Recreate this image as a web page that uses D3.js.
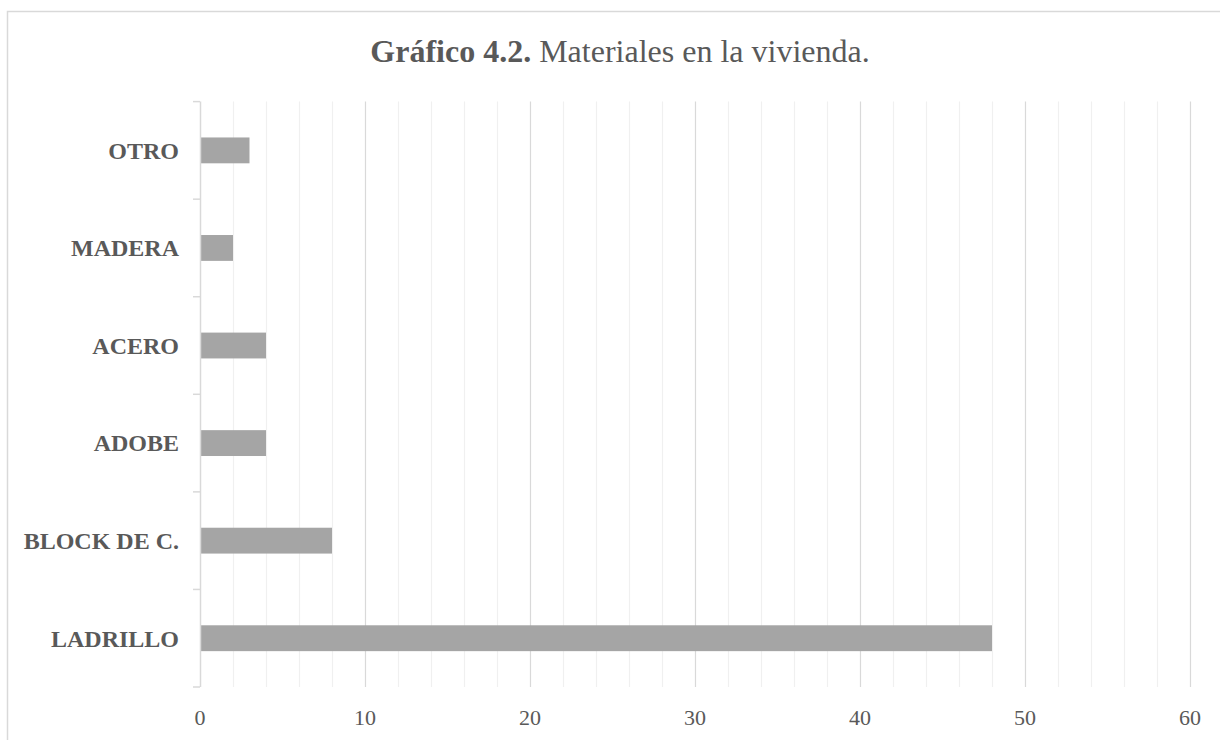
<!DOCTYPE html>
<html>
<head>
<meta charset="utf-8">
<script src="https://cdn.jsdelivr.net/npm/d3@7/dist/d3.min.js"></script>
<style>
  body { margin: 0; background: #fff; }
  text { font-family: "Liberation Serif", "Times New Roman", serif; fill: #595959; }
</style>
</head>
<body>
<div id="chart"></div>
<script>
// materiales en la vivienda

var categories = ["LADRILLO", "BLOCK DE C.", "ADOBE", "ACERO", "MADERA", "OTRO"];
var values = [48, 8, 4, 4, 2, 3];
var majorTicks = [0, 10, 20, 30, 40, 50, 60];
var minorTicks = d3.range(0, 61, 2);

var width = 1220, height = 740;

var svg = d3.select("#chart")
    .append("svg")
    .attr("width", width)
    .attr("height", height);

// chart frame
svg.append("rect")
    .attr("x", 7.5)
    .attr("y", 11.5)
    .attr("width", 1240)
    .attr("height", 760)
    .attr("fill", "none")
    .attr("stroke", "#d9d9d9")
    .attr("stroke-width", 1.5);

// title
var title = svg.append("text")
    .attr("x", 620)
    .attr("y", 62)
    .attr("text-anchor", "middle")
    .style("font-size", "32px");
title.append("tspan").style("font-weight", "bold").text("Gráfico 4.2.");
title.append("tspan").text(" Materiales en la vivienda.");

var x = d3.scaleLinear()
    .domain([0, 60])
    .range([200, 1190]);

var y = d3.scaleBand()
    .domain(categories.slice().reverse())
    .range([101.6, 687])
    .paddingInner(0.735)
    .paddingOuter(0.3675);

var band = d3.scaleBand()
    .domain(categories.slice().reverse())
    .range([101.6, 687]);

// minor gridlines
svg.append("g").selectAll("line")
    .data(minorTicks.filter(function (d) { return d % 10 !== 0; }))
    .enter().append("line")
    .attr("x1", function (d) { return x(d) + 0.5; })
    .attr("x2", function (d) { return x(d) + 0.5; })
    .attr("y1", 101.6)
    .attr("y2", 687)
    .attr("stroke", "#f0f0f0")
    .attr("stroke-width", 1.2);

// major gridlines
svg.append("g").selectAll("line")
    .data(majorTicks.slice(1))
    .enter().append("line")
    .attr("x1", function (d) { return x(d) + 0.5; })
    .attr("x2", function (d) { return x(d) + 0.5; })
    .attr("y1", 101.6)
    .attr("y2", 687)
    .attr("stroke", "#d9d9d9")
    .attr("stroke-width", 1.2);

// bars
svg.append("g").selectAll("rect")
    .data(categories)
    .enter().append("rect")
    .attr("x", x(0) + 1)
    .attr("y", function (d) { return y(d); })
    .attr("width", function (d, i) { return x(values[i]) - x(0) - 1; })
    .attr("height", y.bandwidth())
    .attr("fill", "#a5a5a5");

// category axis line + ticks on band boundaries
var axis = svg.append("g");
axis.append("line")
    .attr("x1", 200.5).attr("x2", 200.5)
    .attr("y1", 101.6).attr("y2", 687)
    .attr("stroke", "#d9d9d9")
    .attr("stroke-width", 1.5);
var bounds = band.domain().map(function (d) { return band(d); }).concat([687]);
axis.selectAll(".tk")
    .data(bounds)
    .enter().append("line")
    .attr("class", "tk")
    .attr("x1", 193).attr("x2", 200)
    .attr("y1", function (d) { return d; })
    .attr("y2", function (d) { return d; })
    .attr("stroke", "#d9d9d9")
    .attr("stroke-width", 1.5);

// category labels
svg.append("g").selectAll("text")
    .data(categories)
    .enter().append("text")
    .attr("x", 179)
    .attr("y", function (d) { return y(d) + y.bandwidth() / 2; })
    .attr("dy", "0.35em")
    .attr("text-anchor", "end")
    .style("font-size", "24px")
    .style("font-weight", "bold")
    .text(function (d) { return d; });

// value labels
svg.append("g").selectAll("text")
    .data(majorTicks)
    .enter().append("text")
    .attr("x", function (d) { return x(d); })
    .attr("y", 725)
    .attr("text-anchor", "middle")
    .style("font-size", "22px")
    .text(function (d) { return d; });
</script>
</body>
</html>
